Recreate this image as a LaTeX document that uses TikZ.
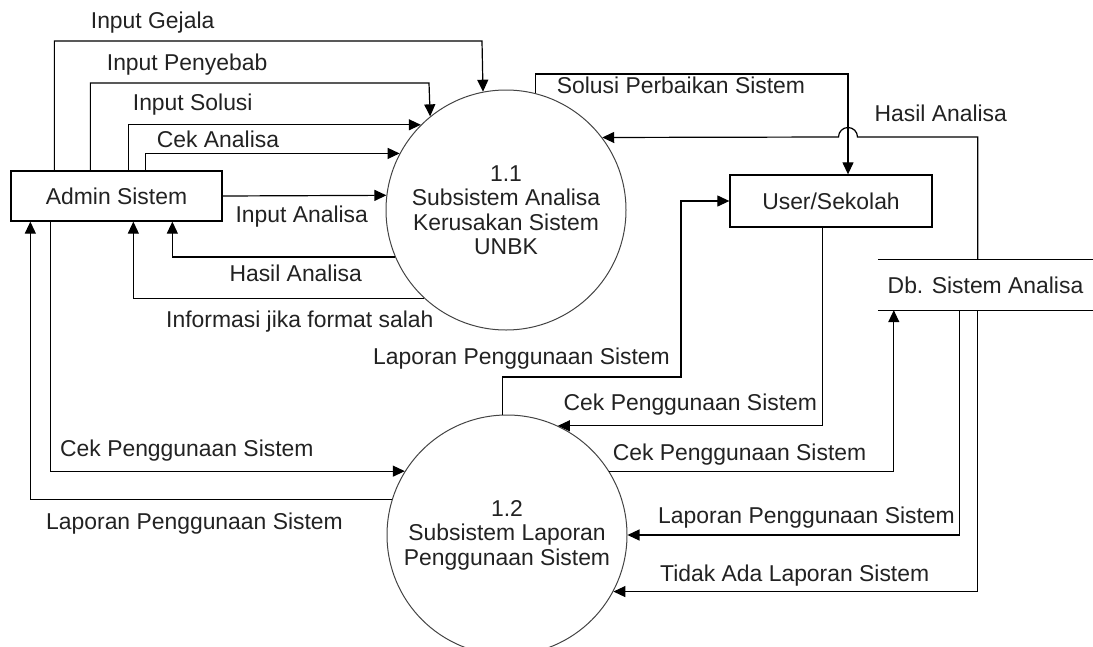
\documentclass[tikz,border=0pt]{standalone}
\usepackage{fontspec}
\setmainfont{Liberation Sans}
\usetikzlibrary{arrows.meta,calc}
\definecolor{txt}{HTML}{222222}
\definecolor{circ}{HTML}{444444}
\begin{document}
\begin{tikzpicture}[x=1pt,y=-1pt,font=\fontsize{22.9}{24.5}\selectfont,
  flow/.style={draw=black, line width=1.2pt, -{Triangle[length=12pt,width=11pt]}},
  plain/.style={draw=black, line width=1.2pt},
  lbl/.style={anchor=base west, inner sep=0pt, text=txt},
  proc/.style={circle, draw=circ, line width=1pt, minimum size=240pt, inner sep=0pt, align=center, text=txt},
  ent/.style={rectangle, draw=black, line width=1.3pt, inner sep=0pt, text=txt},
  store/.style={rectangle, inner sep=0pt, text=txt, minimum width=215pt, minimum height=50pt}]
\useasboundingbox (0,0) rectangle (1093,646);

% nodes
\node[ent, minimum width=211pt, minimum height=50pt] (admin) at (116.5,196) {Admin Sistem};
\node[ent, minimum width=202pt, minimum height=52pt] (user) at (831,201) {User/Sekolah};
\node[store] (db) at (985.5,285) {Db. Sistem Analisa};
\draw[plain] (db.north west) -- (db.north east);
\draw[plain] (db.south west) -- (db.south east);
\node[proc] (p1) at (506,210) {1.1\\Subsistem Analisa\\Kerusakan Sistem\\UNBK};
\node[proc] (p2) at (507,535) {1.2\\Subsistem Laporan\\Penggunaan Sistem};

% Admin -> 1.1
\draw[flow] ($(admin.north west)+(44,0)$) |- (482,41) -- (p1.101.5);
\draw[flow] ($(admin.north west)+(80,0)$) |- (429,83) -- (p1.129.9);
\draw[flow] ($(admin.north west)+(118,0)$) |- (p1.135.6);
\draw[flow] ($(admin.north west)+(135,0)$) |- (p1.152.7);
\draw[flow] (admin.east) -- (p1.173.3);
% 1.1 -> Admin
\draw[flow] (p1.203.1) -| ($(admin.south west)+(162,0)$);
\draw[flow] (p1.227.9) -| ($(admin.south west)+(123,0)$);
% Admin <-> 1.2
\draw[flow] ($(admin.south west)+(40,0)$) |- (p2.148.9);
\draw[flow] (p2.163) -| ($(admin.south west)+(20,0)$);
% 1.1 -> User
\draw[flow] (p1.76.5) |- (848,74) -- ($(user.north)+(17,0)$);
% Db -> 1.1 (with hop)
\draw[flow] ($(db.north west)+(100,0)$) |- (857.5,137) arc(0:-180:9.5) -- (p1.37.5);
% 1.2 <-> User
\draw[flow] (p2.92.4) |- (681,377) |- (user.west);
\draw[flow] ($(user.south west)+(93,0)$) |- (p2.65.3);
% 1.2 <-> Db
\draw[flow] (p2.32.8) -| ($(db.south west)+(16,0)$);
\draw[flow] ($(db.south west)+(82,0)$) |- (p2.0.5);
\draw[flow] ($(db.south west)+(100,0)$) |- (p2.-28.9);

% labels
\node[lbl] (l1) at (90.7,28.3) {Input Gejala};
\node[lbl] (l2) at (106.7,70.7) {Input Penyebab};
\node[lbl] (l3) at (132.7,110) {Input Solusi};
\node[lbl] (l4) at (156.7,147.7) {Cek Analisa};
\node[lbl] (l5) at (235.3,222.7) {Input Analisa};
\node[lbl] (l6) at (229.3,281.7) {Hasil Analisa};
\node[lbl] (l7) at (166,327.7) {Informasi jika format salah};
\node[lbl] (l8) at (556.7,93.3) {Solusi Perbaikan Sistem};
\node[lbl] (l9) at (874.4,121.7) {Hasil Analisa};
\node[lbl] (l10) at (373,364.3) {Laporan Penggunaan Sistem};
\node[lbl] (l11) at (563.5,410.7) {Cek Penggunaan Sistem};
\node[lbl] (l12) at (612.7,460.7) {Cek Penggunaan Sistem};
\node[lbl] (l13) at (60,456.7) {Cek Penggunaan Sistem};
\node[lbl] (l14) at (46,529.3) {Laporan Penggunaan Sistem};
\node[lbl] (l15) at (658,523.3) {Laporan Penggunaan Sistem};
\node[lbl] (l16) at (660,581.7) {Tidak Ada Laporan Sistem};
\end{tikzpicture}
\end{document}
